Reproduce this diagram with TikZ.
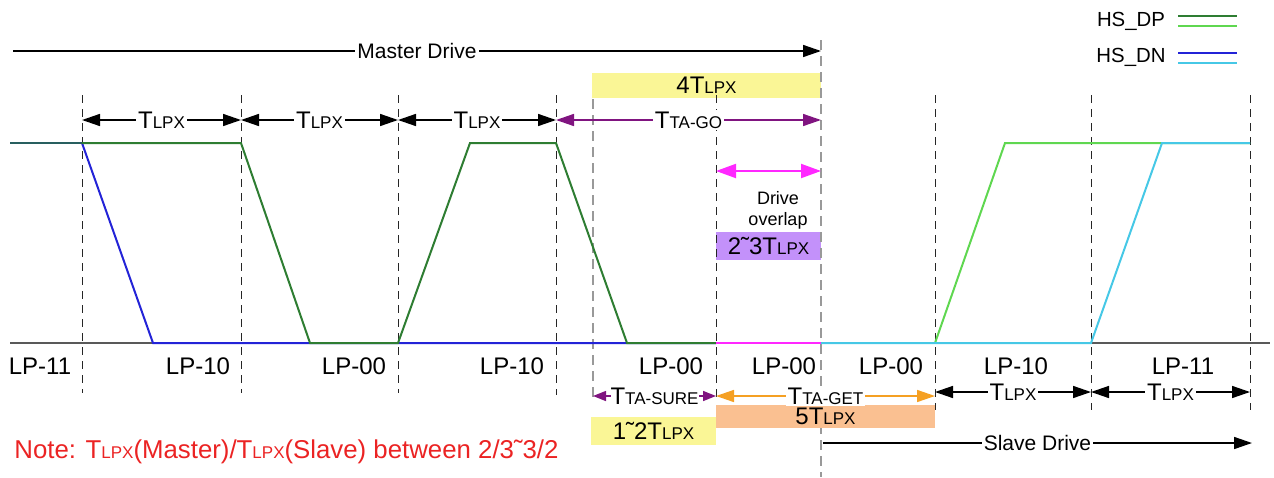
\documentclass[tikz,border=0pt]{standalone}
\usepackage{fontspec}
\setmainfont{Liberation Sans}
\usetikzlibrary{arrows.meta, positioning}

\definecolor{dpdark}{RGB}{46,125,50}
\definecolor{dplight}{RGB}{95,215,80}
\definecolor{dnblue}{RGB}{35,35,215}
\definecolor{dncyan}{RGB}{70,200,230}
\definecolor{bothhi}{RGB}{40,95,95}
\definecolor{ovlmag}{RGB}{255,40,255}
\definecolor{tapurple}{RGB}{128,20,128}
\definecolor{boxyellow}{RGB}{250,246,150}
\definecolor{boxorange}{RGB}{250,192,145}
\definecolor{boxviolet}{RGB}{195,145,250}
\definecolor{getorange}{RGB}{245,160,35}
\definecolor{notered}{RGB}{235,35,35}

\newcommand{\lpsub}[1]{{\fontsize{8.5}{10}\selectfont #1}}
\newcommand{\tlpx}{T\lpsub{LPX}}
\newcommand{\tld}{{\char"02DC\relax}}

\begin{document}
\begin{tikzpicture}[
    x=0.5pt, y=-0.5pt,
    every node/.style={font=\fontsize{12}{14}\selectfont, inner sep=1pt},
    tickline/.style={black!85, line width=0.5pt, dash pattern=on 4pt off 3pt},
    gtick/.style={gray!80, line width=1.2pt, dash pattern=on 5pt off 3pt},
    sig/.style={line width=1pt},
    span/.style={line width=0.75pt, {Triangle[length=9pt,width=6pt]}-{Triangle[length=9pt,width=6pt]}},
    smallspan/.style={line width=0.75pt, {Triangle[length=6.5pt,width=5pt]}-{Triangle[length=6.5pt,width=5pt]}},
    drive/.style={line width=0.75pt, -{Triangle[length=9pt,width=6pt]}},
    onl/.style={fill=white, inner sep=1pt, text=black},
    tbox/.style={inner sep=0pt, minimum height=13pt},
    lp/.style={font=\fontsize{12}{14}\selectfont}
]
\useasboundingbox (0,0) rectangle (1274,477);

% boxes behind the time marks
\node[tbox, fill=boxyellow, minimum width=114.5pt, minimum height=12.5pt] (b4) at (706.5,85) {4\tlpx};
\node[tbox, fill=boxviolet, minimum width=52.5pt, minimum height=14pt] (b23) at (768.5,246) {2\tld3\tlpx};
\node[tbox, fill=boxyellow, minimum width=62.5pt, minimum height=14pt] (b12) at (653.5,431) {1\tld2\tlpx};

% time marks and base line
\draw[gray!70!black, line width=1pt] (10,343) -- (1270,343);
\foreach \x/\e in {82/393,241/393,398/393,556/395,716/400,935/410,1091/410,1250/410}
  \draw[tickline] (\x,95) -- (\x,\e);
\draw[gtick] (593,99) -- (593,397);
\draw[gtick] (821,40) -- (821,477);

\node[tbox, fill=boxorange, minimum width=109.5pt, minimum height=11.5pt] (b5) at (825.5,416.5) {5\tlpx};

% HS_DN and HS_DP
\draw[sig, dnblue] (82,143) -- (153,343) -- (716,343);
\draw[sig, dpdark] (82,143) -- (241,143) -- (310,343) -- (398,343) -- (470,143)
    -- (556,143) -- (627,343) -- (716,343);
\draw[sig, bothhi] (10,143) -- (82,143);
\draw[sig, ovlmag] (716,343) -- (821,343);
\draw[sig, dplight] (935,343) -- (1005,143) -- (1250,143);
\draw[sig, dncyan] (821,343) -- (1091,343) -- (1162,143) -- (1250,143);

% master side
\coordinate (ms) at (13,51);
\coordinate (me) at (821,51);
\draw[drive] (ms) -- node[onl, font=\fontsize{10.5}{12}\selectfont]{Master Drive} (me);
\foreach \n/\x in {1/82,2/241,3/398,4/556,5/821}
  \coordinate (u\n) at (\x,120);
\foreach \i/\j in {1/2,2/3,3/4}
  \draw[span] (u\i) -- node[onl]{\tlpx} (u\j);
\draw[span, tapurple] (u4) -- node[onl]{T\lpsub{TA-GO}} (u5);

% drive overlap
\coordinate (ov1) at (716,171);
\coordinate (ov2) at (821,171);
\draw[ovlmag, line width=1pt, {Triangle[length=10pt,width=7pt]}-{Triangle[length=10pt,width=7pt]}] (ov1) -- (ov2);
\node[align=center, font=\fontsize{9}{10.5}\selectfont] (ovl) at (778,210) {Drive\\overlap};

% state names
\foreach \n/\x/\t in {1/40/LP-11,2/198/LP-10,3/354/LP-00,4/512/LP-10,5/671/LP-00,
                      6/784/LP-00,7/891/LP-00,8/1016/LP-10,9/1183/LP-11}
  \node[lp] (lp\n) at (\x,366) {\t};

% turnaround and slave side
\coordinate (s1) at (593,396);
\coordinate (s2) at (716,396);
\coordinate (s3) at (935,396);
\draw[smallspan, tapurple] (s1) -- node[onl, inner sep=0pt]{T\lpsub{TA-SURE}} (s2);
\draw[span, getorange] (s2) -- node[onl]{T\lpsub{TA-GET}} (s3);
\foreach \n/\x in {1/935,2/1091,3/1250}
  \coordinate (v\n) at (\x,392);
\draw[span] (v1) -- node[onl]{\tlpx} (v2);
\draw[span] (v2) -- node[onl]{\tlpx} (v3);
\coordinate (ss) at (823,443);
\coordinate (se) at (1252,443);
\draw[drive] (ss) -- node[onl, font=\fontsize{10.5}{12}\selectfont]{Slave Drive} (se);

% note
\node[anchor=west, text=notered, font=\fontsize{12.9}{14}\selectfont] (note) at (12,452)
    {Note: \tlpx(Master)/\tlpx(Slave) between 2/3\tld3/2};

% legend
\node[font=\fontsize{10.2}{12}\selectfont] (ldp) at (1131,21) {HS\_DP};
\node[font=\fontsize{10.2}{12}\selectfont] (ldn) at (1131,57) {HS\_DN};
\draw[sig, dpdark] (1178,16) -- (1237,16);
\draw[sig, dplight] (1178,26) -- (1237,26);
\draw[sig, dnblue] (1178,53) -- (1237,53);
\draw[sig, dncyan] (1178,63) -- (1237,63);
\end{tikzpicture}
\end{document}
